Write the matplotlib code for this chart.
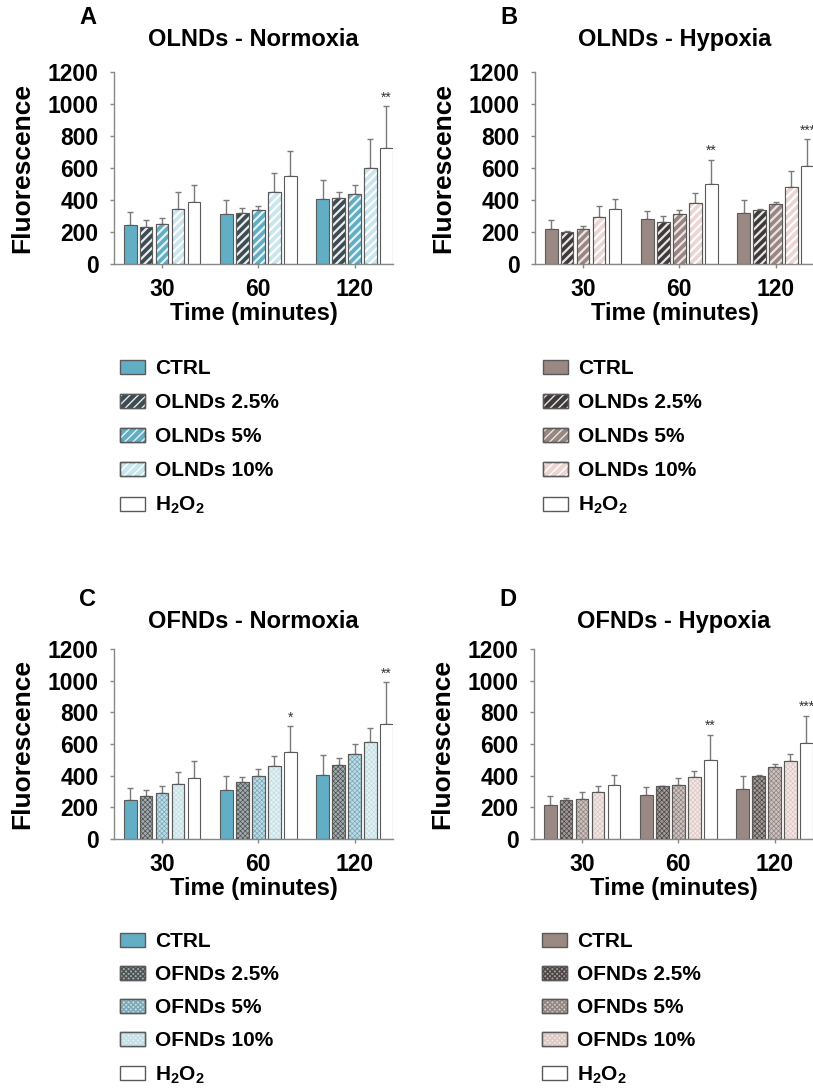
import matplotlib
matplotlib.use("Agg")
import matplotlib.pyplot as plt
import numpy as np
from matplotlib.patches import Patch
from matplotlib.legend_handler import HandlerTuple

plt.rcParams['font.family'] = 'Liberation Sans'
plt.rcParams['font.weight'] = 'bold'
plt.rcParams['mathtext.fontset'] = 'custom'
plt.rcParams['mathtext.rm'] = 'Liberation Sans:bold'
plt.rcParams['mathtext.bf'] = 'Liberation Sans:bold'
plt.rcParams['mathtext.default'] = 'bf'

# ---- data (rows: CTRL, 2.5%, 5%, 10%, H2O2 ; columns: 30, 60, 120 min) ----
times = ['30', '60', '120']

a_means = [[246, 315, 404], [231, 319, 412], [250, 337, 440], [346, 448, 602], [390, 548, 727]]
a_errs = [[77, 87, 123], [46, 31, 38], [37, 23, 52], [102, 119, 179], [104, 160, 258]]

b_means = [[219, 282, 321], [200, 265, 340], [219, 313, 372], [296, 380, 480], [344, 501, 612]]
b_errs = [[59, 52, 82], [5, 38, 2], [17, 27, 14], [69, 65, 102], [63, 152, 167]]

c_means = [[244, 309, 402], [269, 362, 467], [291, 398, 539], [349, 459, 613], [385, 547, 726]]
c_errs = [[78, 91, 126], [38, 32, 42], [42, 46, 63], [74, 67, 88], [106, 165, 263]]

d_means = [[216, 279, 317], [244, 334, 401], [254, 340, 456], [300, 393, 490], [340, 500, 609]]
d_errs = [[57, 51, 84], [14, 2, 4], [44, 44, 17], [36, 38, 46], [65, 158, 168]]

# significance marks on the H2O2 bars: (time index, label)
a_stars = [(2, '**')]
b_stars = [(1, '**'), (2, '***')]
c_stars = [(1, '*'), (2, '**')]
d_stars = [(1, '**'), (2, '***')]

ol_labels = ['CTRL', 'OLNDs 2.5%', 'OLNDs 5%', 'OLNDs 10%', 'H$_2$O$_2$']
of_labels = ['CTRL', 'OFNDs 2.5%', 'OFNDs 5%', 'OFNDs 10%', 'H$_2$O$_2$']

# ---- styles: (face, hatch, hatch colour) ----
EDGE = '#5a5a5a'
styles_a = [('#62aec4', None, None), ('#3e4b50', '////', '#e6eef0'),
            ('#63adc2', '////', '#e2f3f8'), ('#c8e6ee', '////', '#ffffff'),
            ('#ffffff', None, None)]
styles_b = [('#9a8883', None, None), ('#3e3a3a', '////', '#e8e4e3'),
            ('#978783', '////', '#ece4e2'), ('#ecd6d2', '////', '#ffffff'),
            ('#ffffff', None, None)]
styles_c = [('#62aec4', None, None), ('#a3abad', 'xxxxxxx', '#4a5254'),
            ('#b9dee9', 'xxxxxxx', '#7fa5b0'), ('#e2f2f5', 'xxxxxxx', '#c2dde3'),
            ('#ffffff', None, None)]
styles_d = [('#9a8883', None, None), ('#a29a98', 'xxxxxxx', '#4a4544'),
            ('#cdc2be', 'xxxxxxx', '#8f8481'), ('#f3e6e3', 'xxxxxxx', '#d9c8c4'),
            ('#ffffff', None, None)]

W, H = 813, 1088
fig = plt.figure(figsize=(W / 100, H / 100), dpi=100)


def px_axes(left, top_px, bottom_px, width):
    return fig.add_axes([left / W, 1 - bottom_px / H, width / W, (bottom_px - top_px) / H])


def draw_panel(ax, means, errs, styles, title, letter, stars, title_pad, letter_dy):
    means = np.array(means, dtype=float)
    errs = np.array(errs, dtype=float)
    x = np.arange(len(times))
    step = 0.166
    width = 0.132
    for i, (face, hatch, hcol) in enumerate(styles):
        xs = x + (i - 2) * step
        ax.bar(xs, means[i], width, color=face, edgecolor=EDGE, linewidth=0.8, zorder=2)
        if hatch:
            with plt.rc_context({'hatch.linewidth': 1.6 if '/' in hatch else 0.5}):
                ax.bar(xs, means[i], width, fill=False, hatch=hatch, edgecolor=hcol,
                       linewidth=0, zorder=3)
            ax.bar(xs, means[i], width, fill=False, edgecolor=EDGE, linewidth=0.8, zorder=4)
        ax.errorbar(xs, means[i], yerr=[np.zeros(len(x)), errs[i]], fmt='none',
                    ecolor='#7a7a7a', elinewidth=1, capsize=2.5, capthick=1, zorder=1)
    for ti, lab in stars:
        xs = x[ti] + 2 * step
        ax.text(xs, means[4][ti] + errs[4][ti] + 12, lab, ha='center', va='bottom',
                fontsize=10, color='#333333', fontweight='normal', clip_on=False)
    ax.set_ylim(0, 1200)
    ax.set_xlim(-0.5, 2.4)
    ax.set_yticks(np.arange(0, 1201, 200))
    ax.set_xticks(x)
    ax.set_xticklabels(times)
    ax.tick_params(labelsize=16.5, length=3, width=1, color='#888888')
    ax.tick_params(axis='x', pad=7)
    ax.tick_params(axis='y', pad=8)
    for s in ['top', 'right']:
        ax.spines[s].set_visible(False)
    for s in ['left', 'bottom']:
        ax.spines[s].set_color('#888888')
        ax.spines[s].set_linewidth(1)
    ax.set_xlabel('Time (minutes)', fontsize=17, fontweight='bold', labelpad=1)
    ax.set_ylabel('Fluorescence', fontsize=19, fontweight='bold', labelpad=10)
    ax.set_title(title, fontsize=17, fontweight='bold', pad=title_pad)
    bb = ax.get_position()
    fig.text(bb.x0 - 26 / W, bb.y1 + letter_dy / H, letter, fontsize=17,
             fontweight='bold', ha='center', va='center')


def legend_for(styles, labels, left_px, top_px, spacing):
    handles = []
    for face, hatch, hcol in styles:
        if hatch:
            h = (Patch(facecolor=face, edgecolor=EDGE, linewidth=1),
                 Patch(fill=False, hatch=hatch, edgecolor=hcol, linewidth=0),
                 Patch(fill=False, edgecolor=EDGE, linewidth=1))
        else:
            h = (Patch(facecolor=face, edgecolor=EDGE, linewidth=1),)
        handles.append(h)
    fig.legend(handles, labels, handler_map={tuple: HandlerTuple(ndivide=1, pad=0)},
               loc='upper left', bbox_to_anchor=(left_px / W, 1 - top_px / H),
               frameon=False, borderpad=0, borderaxespad=0,
               handlelength=1.2, handleheight=0.65, handletextpad=0.5,
               labelspacing=spacing, prop={'weight': 'bold', 'size': 15})


ax_a = px_axes(114, 72, 264, 279)
ax_b = px_axes(535, 72, 264, 279)
ax_c = px_axes(114, 649, 839, 279)
ax_d = px_axes(534, 649, 839, 279)

draw_panel(ax_a, a_means, a_errs, styles_a, 'OLNDs - Normoxia', 'A', a_stars, 19, 55)
draw_panel(ax_b, b_means, b_errs, styles_b, 'OLNDs - Hypoxia', 'B', b_stars, 19, 55)
draw_panel(ax_c, c_means, c_errs, styles_c, 'OFNDs - Normoxia', 'C', c_stars, 15, 50)
draw_panel(ax_d, d_means, d_errs, styles_d, 'OFNDs - Hypoxia', 'D', d_stars, 15, 50)

legend_for(styles_a, ol_labels, 120, 359, 0.72)
legend_for(styles_b, ol_labels, 543, 359, 0.72)
legend_for(styles_c, of_labels, 120, 932, 0.68)
legend_for(styles_d, of_labels, 542, 932, 0.68)

fig.savefig('out.png', dpi=100, facecolor='white')
